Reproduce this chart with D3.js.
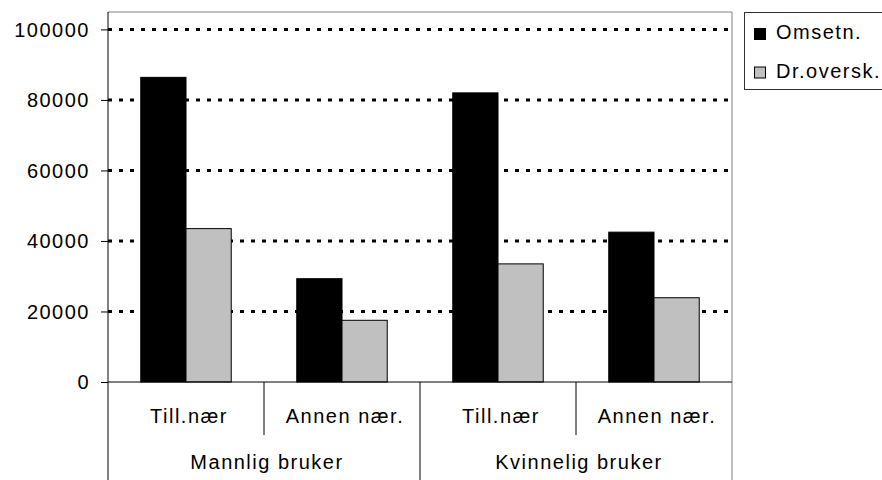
<!DOCTYPE html>
<html>
<head>
<meta charset="utf-8">
<script src="https://cdn.jsdelivr.net/npm/d3@7"></script>
<style>
  body { margin: 0; background: #fff; }
  svg text { font-family: Arial, "Liberation Sans", sans-serif; font-size: 20px; letter-spacing: 1.5px; fill: #000; }
</style>
</head>
<body>
<div id="chart"></div>
<script>
// data
const groups = ['Mannlig bruker', 'Kvinnelig bruker'];
const subCategories = ['Till.nær', 'Annen nær.'];
const seriesNames = ['Omsetn.', 'Dr.oversk.'];
const omsetn = [86400, 29300, 82000, 42500];
const drOversk = [43500, 17500, 33500, 23900];
const yTicks = [0, 20000, 40000, 60000, 80000, 100000];

const seriesColors = ['#000000', '#c0c0c0'];

const width = 882;
const height = 480;
const plot = { left: 108, right: 732, top: 12, zero: 382, catBottom: 435, bottom: 480 };

const svg = d3.select('#chart')
    .append('svg')
    .attr('width', width)
    .attr('height', height);

// one row per category (group x sub-category)
const rows = [];
groups.forEach((g, gi) => {
    subCategories.forEach((s, si) => {
        const i = gi * subCategories.length + si;
        rows.push({ key: g + '|' + s, group: g, sub: s, values: [omsetn[i], drOversk[i]] });
    });
});

const x = d3.scaleBand()
    .domain(rows.map(d => d.key))
    .range([plot.left, plot.right])
    .paddingInner(0.42)
    .paddingOuter(0.21);

const xInner = d3.scaleBand()
    .domain(seriesNames)
    .range([0, x.bandwidth()]);

const xGroup = d3.scaleBand()
    .domain(groups)
    .range([plot.left, plot.right]);

const y = d3.scaleLinear()
    .domain([0, 100000])
    .range([plot.zero, 29.4]);

// plot frame (top / right)
svg.append('path')
    .attr('d', `M${plot.left},${plot.top}H${plot.right}V${plot.bottom}`)
    .attr('fill', 'none')
    .attr('stroke', '#808080')
    .attr('stroke-width', 1);

// dotted gridlines
svg.append('g')
    .selectAll('line')
    .data(yTicks.filter(t => t > 0))
    .enter()
    .append('line')
    .attr('x1', plot.left)
    .attr('x2', plot.right)
    .attr('y1', d => y(d))
    .attr('y2', d => y(d))
    .attr('stroke', '#000')
    .attr('stroke-width', 3)
    .attr('stroke-dasharray', '4,7');

// y axis
const yAxis = d3.axisLeft(y)
    .tickValues(yTicks)
    .tickSize(7)
    .tickPadding(13)
    .tickFormat(d3.format('d'));

const yG = svg.append('g')
    .attr('transform', `translate(${plot.left},0)`)
    .call(yAxis);
yG.select('.domain').remove();
yG.selectAll('line').attr('stroke', '#000');
yG.selectAll('text')
    .attr('font-size', null)
    .attr('font-family', null)
    .attr('dy', '0.33em')
    .attr('dx', '2px');

// bars
const barG = svg.append('g')
    .selectAll('g')
    .data(rows)
    .enter()
    .append('g')
    .attr('transform', d => `translate(${x(d.key)},0)`);

barG.selectAll('rect')
    .data(d => d.values.map((v, i) => ({ name: seriesNames[i], value: v, color: seriesColors[i] })))
    .enter()
    .append('rect')
    .attr('x', d => xInner(d.name))
    .attr('y', d => y(d.value))
    .attr('width', xInner.bandwidth())
    .attr('height', d => y(0) - y(d.value))
    .attr('fill', d => d.color)
    .attr('stroke', '#000')
    .attr('stroke-width', 1);

// left axis line and zero line
svg.append('line')
    .attr('x1', plot.left).attr('x2', plot.left)
    .attr('y1', plot.top).attr('y2', plot.bottom)
    .attr('stroke', '#000');
svg.append('line')
    .attr('x1', plot.left).attr('x2', plot.right)
    .attr('y1', plot.zero).attr('y2', plot.zero)
    .attr('stroke', '#000');

// multi-level category axis
const step = (plot.right - plot.left) / rows.length;
svg.append('g')
    .selectAll('line')
    .data(d3.range(1, rows.length).filter(i => i % subCategories.length !== 0))
    .enter()
    .append('line')
    .attr('x1', i => plot.left + i * step)
    .attr('x2', i => plot.left + i * step)
    .attr('y1', plot.zero)
    .attr('y2', plot.catBottom)
    .attr('stroke', '#000');

svg.append('g')
    .selectAll('line')
    .data(groups.slice(1))
    .enter()
    .append('line')
    .attr('x1', d => xGroup(d))
    .attr('x2', d => xGroup(d))
    .attr('y1', plot.zero)
    .attr('y2', plot.bottom)
    .attr('stroke', '#000');

svg.append('g')
    .selectAll('text')
    .data(rows)
    .enter()
    .append('text')
    .attr('x', (d, i) => plot.left + (i + 0.5) * step + 3)
    .attr('y', 423)
    .attr('text-anchor', 'middle')
    .text(d => d.sub);

svg.append('g')
    .selectAll('text')
    .data(groups)
    .enter()
    .append('text')
    .attr('x', d => xGroup(d) + xGroup.bandwidth() / 2 + 3)
    .attr('y', 469)
    .attr('text-anchor', 'middle')
    .text(d => d);

// legend
const legend = svg.append('g');
legend.append('rect')
    .attr('x', 744.5)
    .attr('y', 12.5)
    .attr('width', 150)
    .attr('height', 77)
    .attr('fill', '#fff')
    .attr('stroke', '#333');

const item = legend.selectAll('g.item')
    .data(seriesNames)
    .enter()
    .append('g')
    .attr('class', 'item')
    .attr('transform', (d, i) => `translate(0,${39 + i * 38.5})`);

item.append('rect')
    .attr('x', 754.5)
    .attr('y', -10.5)
    .attr('width', 11)
    .attr('height', 11)
    .attr('fill', (d, i) => seriesColors[i])
    .attr('stroke', '#000');

item.append('text')
    .attr('x', 776)
    .attr('y', 0)
    .text(d => d);
</script>
</body>
</html>
